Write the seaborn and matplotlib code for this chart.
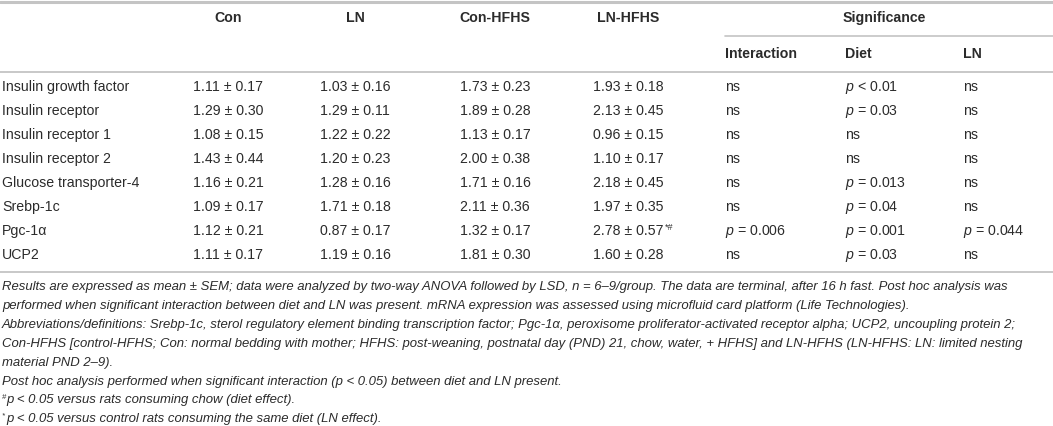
import matplotlib
matplotlib.use("Agg")
import matplotlib.pyplot as plt
import seaborn as sns

# table values (mean, SEM) per group
genes = ["Insulin growth factor", "Insulin receptor", "Insulin receptor 1",
         "Insulin receptor 2", "Glucose transporter-4", "Srebp-1c",
         "Pgc-1\u03b1", "UCP2"]
con_mean = [1.11, 1.29, 1.08, 1.43, 1.16, 1.09, 1.12, 1.11]
con_sem = [0.17, 0.30, 0.15, 0.44, 0.21, 0.17, 0.21, 0.17]
ln_mean = [1.03, 1.29, 1.22, 1.20, 1.28, 1.71, 0.87, 1.19]
ln_sem = [0.16, 0.11, 0.22, 0.23, 0.16, 0.18, 0.17, 0.16]
conhfhs_mean = [1.73, 1.89, 1.13, 2.00, 1.71, 2.11, 1.32, 1.81]
conhfhs_sem = [0.23, 0.28, 0.17, 0.38, 0.16, 0.36, 0.17, 0.30]
lnhfhs_mean = [1.93, 2.13, 0.96, 1.10, 2.18, 1.97, 2.78, 1.60]
lnhfhs_sem = [0.18, 0.45, 0.15, 0.17, 0.45, 0.35, 0.57, 0.28]
lnhfhs_mark = ["", "", "", "", "", "", "*#", ""]
p_interaction = ["ns", "ns", "ns", "ns", "ns", "ns", "= 0.006", "ns"]
p_diet = ["< 0.01", "= 0.03", "ns", "ns", "= 0.013", "= 0.04", "= 0.001", "= 0.03"]
p_ln = ["ns", "ns", "ns", "ns", "ns", "ns", "= 0.044", "ns"]

group_names = ["Con", "LN", "Con-HFHS", "LN-HFHS"]
sig_names = ["Interaction", "Diet", "LN"]

footnotes = [
    "Results are expressed as mean \u00b1 SEM; data were analyzed by two-way ANOVA followed by LSD, n = 6\u20139/group. The data are terminal, after 16 h fast. Post hoc analysis was",
    "performed when significant interaction between diet and LN was present. mRNA expression was assessed using microfluid card platform (Life Technologies).",
    "Abbreviations/definitions: Srebp-1c, sterol regulatory element binding transcription factor; Pgc-1\u03b1, peroxisome proliferator-activated receptor alpha; UCP2, uncoupling protein 2;",
    "Con-HFHS [control-HFHS; Con: normal bedding with mother; HFHS: post-weaning, postnatal day (PND) 21, chow, water, + HFHS] and LN-HFHS (LN-HFHS: LN: limited nesting",
    "material PND 2\u20139).",
    "Post hoc analysis performed when significant interaction (p < 0.05) between diet and LN present.",
    "p < 0.05 versus rats consuming chow (diet effect).",
    "p < 0.05 versus control rats consuming the same diet (LN effect).",
]
footnote_marks = ["", "", "", "", "", "", "#", "*"]

sns.set_theme(style="white")
plt.rcParams["font.family"] = ["Liberation Sans", "DejaVu Sans"]
plt.rcParams["mathtext.fontset"] = "custom"
plt.rcParams["mathtext.rm"] = "Liberation Sans"
plt.rcParams["mathtext.it"] = "Liberation Sans:italic"

W, H = 1053, 426
fig = plt.figure(figsize=(W / 100, H / 100), dpi=100)
ax = fig.add_axes([0, 0, 1, 1])
ax.set_xlim(0, W)
ax.set_ylim(H, 0)
ax.axis("off")

txt = "#2b2b2b"
line_c = "#c4c4c4"
fs = 10.2

# rules
ax.plot([0, W], [1.5, 1.5], color=line_c, lw=2.2)
ax.plot([725, W], [36, 36], color=line_c, lw=1.2)
ax.plot([0, W], [71.5, 71.5], color=line_c, lw=1.3)
ax.plot([0, W], [272, 272], color=line_c, lw=1.3)

# headers
group_x = [228, 355, 495, 628]
for gx, name in zip(group_x, group_names):
    ax.text(gx, 18, name, ha="center", va="center", fontsize=fs, fontweight="bold", color=txt)
ax.text(884, 18, "Significance", ha="center", va="center", fontsize=fs, fontweight="bold", color=txt)
sig_x = [725, 845, 963]
for sx, name in zip(sig_x, sig_names):
    ax.text(sx, 54, name, ha="left", va="center", fontsize=fs, fontweight="bold", color=txt)

# body rows
row_y0, row_dy = 87, 24
groups = [(con_mean, con_sem), (ln_mean, ln_sem), (conhfhs_mean, conhfhs_sem)]
for i, gene in enumerate(genes):
    y = row_y0 + i * row_dy
    ax.text(2, y, gene, ha="left", va="center", fontsize=fs, color=txt)
    for gx, (m, s) in zip(group_x, groups):
        ax.text(gx, y, f"{m[i]:.2f} \u00b1 {s[i]:.2f}", ha="center", va="center",
                fontsize=fs, color=txt)
    val = f"{lnhfhs_mean[i]:.2f} \u00b1 {lnhfhs_sem[i]:.2f}"
    ax.text(593, y, val, ha="left", va="center", fontsize=fs, color=txt)
    if lnhfhs_mark[i]:
        ax.text(665, y - 3, lnhfhs_mark[i], ha="left", va="center", fontsize=6.5, color=txt)
    for sx, p in zip(sig_x, [p_interaction[i], p_diet[i], p_ln[i]]):
        label = p if p == "ns" else "$\\it{p}$ " + p
        ax.text(sx, y, label, ha="left", va="center", fontsize=fs, color=txt)

# footnotes
fn_y0, fn_dy = 287, 18.9
for j, (line, mark) in enumerate(zip(footnotes, footnote_marks)):
    y = fn_y0 + j * fn_dy
    x0 = 2
    if mark:
        ax.text(x0, y - 3, mark, ha="left", va="center", fontsize=5.5,
                style="italic", color=txt)
        x0 = 6
    ax.text(x0, y, line, ha="left", va="center", fontsize=9.45,
            style="italic", color=txt)

fig.savefig("out.png", dpi=100)
